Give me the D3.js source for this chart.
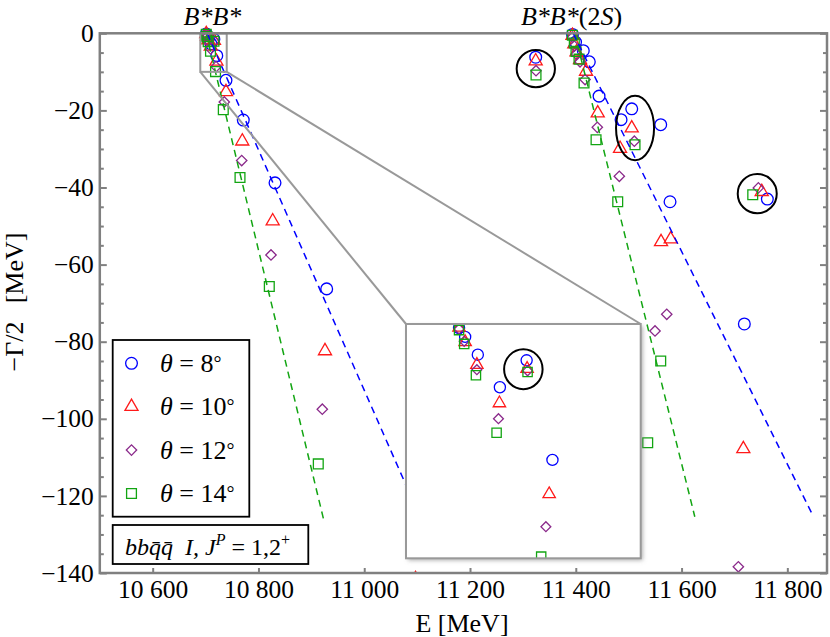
<!DOCTYPE html>
<html>
<head>
<meta charset="utf-8">
<style>
body { margin: 0; background: #fff; }
svg { display: block; font-family: "Liberation Serif", "Times New Roman", serif; }
.axis line { stroke: #808080; stroke-width: 2; }
.axis path { display: none; }
</style>
</head>
<body>
<div id="chart"></div>
<script src="https://d3js.org/d3.v7.min.js"></script>
<script>
// values: E [MeV] and -Gamma/2 [MeV] for each theta
const thetaDeg = [8, 10, 12, 14];

const energy8 = [10701.3, 10702.6, 10705.3, 10710.0, 10715.7, 10721.2, 10738.6, 10771.3, 10831.3, 10929.0,
    11324.2, 11393.8, 11399.5, 11414.2, 11425.6, 11444.0, 11485.6, 11505.8, 11560.6, 11578.2, 11718.7, 11762.2];
const width8 = [-0.17, -0.55, -1.31, -2.70, -1.55, -5.80, -12.2, -22.5, -38.8, -66.3,
    -6.2, -0.3, -2.3, -4.5, -7.4, -16.3, -22.4, -19.6, -23.7, -43.7, -75.4, -43.0];

const energy10 = [10701.3, 10702.6, 10705.1, 10709.9, 10715.8, 10720.5, 10738.6, 10769.4, 10826.9, 10925.8, 11097.0,
    11324.2, 11393.8, 11397.2, 11401.4, 11408.0, 11419.4, 11441.5, 11483.7, 11505.8, 11561.2, 11579.5, 11716.8, 11751.6];
const width10 = [-0.15, -0.77, -1.74, -3.38, -1.91, -7.26, -15.2, -28.0, -48.7, -82.4, -141.5,
    -7.2, -0.6, -2.8, -4.9, -6.9, -9.9, -20.7, -29.9, -24.6, -54.1, -53.4, -107.8, -41.1];

const energy12 = [10701.3, 10702.4, 10705.1, 10709.7, 10715.9, 10719.8, 10735.4, 10768.3, 10823.7, 10920.7,
    11324.8, 11393.8, 11397.2, 11401.4, 11408.0, 11417.5, 11440.7, 11482.3, 11510.7, 11549.8, 11572.0, 11707.4, 11745.2];
const width12 = [-0.21, -0.74, -1.95, -4.04, -2.00, -8.65, -17.8, -33.0, -57.5, -97.5,
    -9.7, -1.0, -3.3, -5.4, -7.4, -12.0, -24.4, -37.1, -28.0, -77.2, -72.9, -138.4, -40.1];

const energy14 = [10701.3, 10702.4, 10704.9, 10709.3, 10715.9, 10718.8, 10733.5, 10765.1, 10820.5, 10913.1,
    11324.8, 11393.5, 11397.2, 11400.4, 11406.1, 11415.6, 11438.3, 11479.3, 11512.0, 11536.0, 11560.6, 11734.6];
const width14 = [-0.26, -0.85, -2.19, -4.64, -2.05, -9.93, -19.8, -37.4, -65.7, -111.7,
    -10.8, -0.5, -2.5, -4.7, -6.7, -12.9, -27.6, -43.7, -28.9, -106.2, -85.0, -41.9];

// dashed rotated-continuum lines: start and end
const lineStartE = [10701, 10703, 11398, 11395];
const lineEndE = [10923, 11104, 11625, 11848];
const lineEndG = [-126, -125, -125.4, -125];
const lineTheta = [14, 8, 14, 8];

// rings drawn round resonances (bounding boxes)
const ringEmin = [11288.2, 11476.1, 11706.2];
const ringEmax = [11360.6, 11548.0, 11780.0];
const ringGmin = [-14.0, -32.9, -46.7];
const ringGmax = [-4.33, -16.2, -36.5];
const insetRing = [10710.9, 10719.1, -2.78, -1.08];

// zoomed window shown in the inset
const zoomE = [10690, 10740];
const zoomG = [0, -10];

const xTicks = [10600, 10800, 11000, 11200, 11400, 11600, 11800];
const yTicks = [0, -20, -40, -60, -80, -100, -120, -140];
const yMinor = d3.range(0, -141, -5).filter(v => v % 20 !== 0);

const thresholdLabels = ["B*B*", "B*B*(2S)"];
const thresholdE = [10713, 11392];

// styles
const serif = "'Liberation Serif', 'Times New Roman', serif";
const colors = {8: "#0000ff", 10: "#ff1a1a", 12: "#8b2a8b", 14: "#12a512"};
const shapes = {8: d3.symbolCircle, 10: d3.symbolTriangle, 12: d3.symbolSquare, 14: d3.symbolSquare};
const sizes = {8: 108, 10: 74, 12: 54, 14: 96};

const series = thetaDeg.map((t, i) => ({
    theta: t,
    E: [energy8, energy10, energy12, energy14][i],
    G: [width8, width10, width12, width14][i]
}));

const W = 830, H = 637;
const x = d3.scaleLinear().domain([10500, 11875]).range([99.8, 827]);
const y = d3.scaleLinear().domain([0, -140]).range([33.3, 573]);

const inset = {x: 406, y: 324, w: 234.7, h: 234.3};
const xi = d3.scaleLinear().domain(zoomE).range([inset.x, inset.x + inset.w]);
const yi = d3.scaleLinear().domain(zoomG).range([inset.y, inset.y + inset.h]);

const svg = d3.select("#chart").append("svg")
    .attr("width", W)
    .attr("height", H);

const defs = svg.append("defs");
defs.append("clipPath").attr("id", "plotclip")
    .append("rect").attr("x", x.range()[0]).attr("y", 20)
    .attr("width", x.range()[1] - x.range()[0]).attr("height", y(-140) - 20);
defs.append("clipPath").attr("id", "insetclip")
    .append("rect").attr("x", inset.x).attr("y", inset.y)
    .attr("width", inset.w).attr("height", inset.h);
const shadow = defs.append("filter").attr("id", "shadow")
    .attr("x", "-10%").attr("y", "-10%").attr("width", "130%").attr("height", "130%");
shadow.append("feDropShadow").attr("dx", 2).attr("dy", 2).attr("stdDeviation", 2)
    .attr("flood-color", "#777").attr("flood-opacity", 0.6);

const sym = (t, k) => d3.symbol().type(shapes[t]).size(sizes[t] * k)();

function drawMarkers(g, sx, sy, k) {
    series.forEach(s => {
        const pts = s.E.map((e, j) => [e, s.G[j]]);
        g.selectAll(null)
            .data(pts)
            .enter()
            .append("path")
            .attr("d", sym(s.theta, k))
            .attr("transform", d => "translate(" + sx(d[0]) + "," + sy(d[1]) + ")" + (s.theta === 12 ? " rotate(45)" : ""))
            .attr("fill", "none")
            .attr("stroke", colors[s.theta])
            .attr("stroke-width", 1.3);
    });
}

// main plot marks
const plot = svg.append("g").attr("clip-path", "url(#plotclip)");
drawMarkers(plot, x, y, 1);

plot.selectAll(".cont")
    .data(lineStartE.map((e, i) => ({e0: e, e1: lineEndE[i], g1: lineEndG[i], t: lineTheta[i]})))
    .enter()
    .append("line")
    .attr("x1", d => x(d.e0)).attr("y1", y(0))
    .attr("x2", d => x(d.e1)).attr("y2", d => y(d.g1))
    .attr("stroke", d => colors[d.t])
    .attr("stroke-width", 1.5)
    .attr("stroke-dasharray", "7,5");

plot.selectAll(".ring")
    .data(ringEmin.map((e, i) => [e, ringEmax[i], ringGmin[i], ringGmax[i]]))
    .enter()
    .append("ellipse")
    .attr("cx", d => (x(d[0]) + x(d[1])) / 2)
    .attr("cy", d => (y(d[2]) + y(d[3])) / 2)
    .attr("rx", d => (x(d[1]) - x(d[0])) / 2)
    .attr("ry", d => (y(d[2]) - y(d[3])) / 2)
    .attr("fill", "none")
    .attr("stroke", "#000")
    .attr("stroke-width", 2);

// zoom window and connectors
svg.append("rect")
    .attr("x", x(zoomE[0])).attr("y", y(zoomG[0]))
    .attr("width", x(zoomE[1]) - x(zoomE[0]))
    .attr("height", y(zoomG[1]) - y(zoomG[0]))
    .attr("fill", "none").attr("stroke", "#999").attr("stroke-width", 2);
svg.append("line")
    .attr("x1", x(zoomE[0])).attr("y1", y(zoomG[1]))
    .attr("x2", inset.x).attr("y2", inset.y)
    .attr("stroke", "#999").attr("stroke-width", 2);
svg.append("line")
    .attr("x1", x(zoomE[1])).attr("y1", y(zoomG[1]))
    .attr("x2", inset.x + inset.w).attr("y2", inset.y)
    .attr("stroke", "#999").attr("stroke-width", 2);

// inset
svg.append("rect")
    .attr("x", inset.x).attr("y", inset.y).attr("width", inset.w).attr("height", inset.h)
    .attr("fill", "#fff").attr("filter", "url(#shadow)");
const ins = svg.append("g").attr("clip-path", "url(#insetclip)");
drawMarkers(ins, xi, yi, 0.9);
ins.append("ellipse")
    .attr("cx", (xi(insetRing[0]) + xi(insetRing[1])) / 2)
    .attr("cy", (yi(insetRing[2]) + yi(insetRing[3])) / 2)
    .attr("rx", (xi(insetRing[1]) - xi(insetRing[0])) / 2)
    .attr("ry", (yi(insetRing[2]) - yi(insetRing[3])) / 2)
    .attr("fill", "none").attr("stroke", "#000").attr("stroke-width", 2);
svg.append("rect")
    .attr("x", inset.x).attr("y", inset.y).attr("width", inset.w).attr("height", inset.h)
    .attr("fill", "none").attr("stroke", "#999").attr("stroke-width", 2);

// axes
const fmt = d3.formatLocale({decimal: ".", thousands: " ", grouping: [3], currency: ["", ""], minus: "\u2212"});
function styleAxis(g) {
    g.attr("font-family", serif).attr("font-size", 25.5);
    g.selectAll("text").style("font-family", serif).style("font-size", "25.5px")
        .style("white-space", "pre").attr("fill", "#000");
}
svg.append("g")
    .attr("class", "axis")
    .attr("transform", "translate(0," + y(-140) + ")")
    .call(d3.axisBottom(x).tickValues(xTicks).tickSize(-5).tickPadding(7).tickFormat(fmt.format(",")))
    .call(styleAxis);
svg.append("g")
    .attr("class", "axis")
    .attr("transform", "translate(" + x(10500) + ",0)")
    .call(d3.axisLeft(y).tickValues(yTicks).tickSize(-7).tickPadding(6).tickFormat(fmt.format("d")))
    .call(styleAxis);
svg.append("g")
    .attr("class", "axis")
    .attr("transform", "translate(" + x(10500) + ",0)")
    .call(d3.axisLeft(y).tickValues(yMinor).tickSize(-4).tickFormat(""));
svg.append("g")
    .attr("class", "axis")
    .attr("transform", "translate(" + x(11875) + ",0)")
    .call(d3.axisRight(y).tickValues(yTicks).tickSize(-7).tickFormat(""));
svg.append("g")
    .attr("class", "axis")
    .attr("transform", "translate(" + x(11875) + ",0)")
    .call(d3.axisRight(y).tickValues(yMinor).tickSize(-4).tickFormat(""));

svg.append("rect")
    .attr("x", x(10500)).attr("y", y(0))
    .attr("width", x(11875) - x(10500)).attr("height", y(-140) - y(0))
    .attr("fill", "none").attr("stroke", "#808080").attr("stroke-width", 2.5);

// axis titles
svg.append("text")
    .attr("x", 462).attr("y", 632)
    .attr("text-anchor", "middle").attr("font-size", 26)
    .text("E [MeV]");
svg.append("text")
    .attr("transform", "translate(23,302) rotate(-90)")
    .attr("text-anchor", "middle").attr("font-size", 26)
    .text("\u2212\u0393/2\u2002\u2009[MeV]");

// threshold labels
const tl = svg.selectAll(".thr")
    .data(thresholdLabels)
    .enter()
    .append("text")
    .attr("x", (d, i) => x(thresholdE[i]))
    .attr("y", 25)
    .attr("text-anchor", "middle")
    .attr("font-size", 26);
tl.each(function(d) {
    const t = d3.select(this);
    const m = d.match(/^(B\*B\*)(\(2)?(S)?(\))?$/);
    t.append("tspan").attr("font-style", "italic").text(m[1]);
    if (m[2]) {
        t.append("tspan").text(m[2]);
        t.append("tspan").attr("font-style", "italic").text(m[3]);
        t.append("tspan").text(m[4]);
    }
});

// legend
svg.append("rect")
    .attr("x", 112.7).attr("y", 340).attr("width", 136.6).attr("height", 176.7)
    .attr("fill", "#fff").attr("stroke", "#000").attr("stroke-width", 1.8);
const leg = svg.selectAll(".leg")
    .data(thetaDeg)
    .enter()
    .append("g")
    .attr("transform", (d, i) => "translate(131.5," + (363.3 + i * 43.4) + ")");
leg.append("path")
    .attr("d", d => sym(d, 1))
    .attr("transform", d => d === 12 ? "rotate(45)" : null)
    .attr("fill", "none")
    .attr("stroke", d => colors[d])
    .attr("stroke-width", 1.3);
const lt = leg.append("text")
    .attr("x", 28.5).attr("y", 8.5)
    .attr("font-size", 26);
lt.append("tspan").attr("font-style", "italic").text("\u03b8");
lt.append("tspan").text(d => " = " + d);
lt.append("tspan").attr("font-size", 20).attr("dy", -2).text("\u00b0");

svg.append("rect")
    .attr("x", 112.7).attr("y", 525).attr("width", 195.6).attr("height", 39)
    .attr("fill", "#fff").attr("stroke", "#000").attr("stroke-width", 1.8);
const bt = svg.append("text")
    .attr("x", 125).attr("y", 555)
    .attr("font-size", 24)
    .style("white-space", "pre");
bt.append("tspan").attr("font-style", "italic").text("bbq\u0304q\u0304  I, J");
bt.append("tspan").attr("font-style", "italic").attr("font-size", 16).attr("dy", -10).text("P");
bt.append("tspan").attr("dy", 10).text(" = 1,2");
bt.append("tspan").attr("font-size", 16).attr("dy", -10).text("+");
</script>
</body>
</html>
